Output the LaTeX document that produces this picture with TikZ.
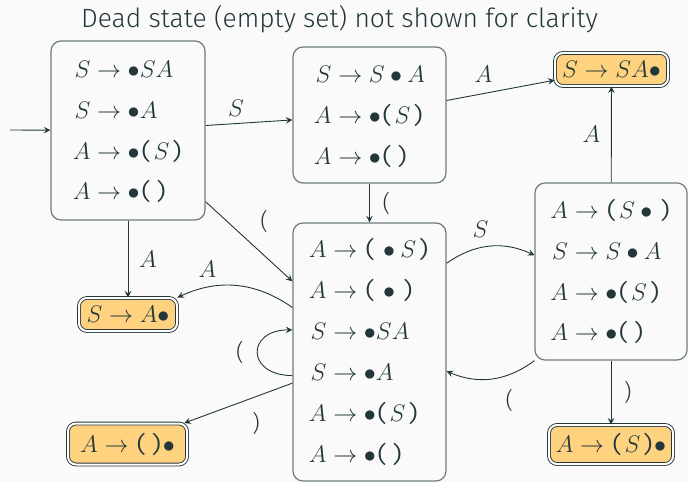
\documentclass[tikz,border=0pt]{standalone}
\usepackage{fontspec}
\setmainfont{Fira Sans Light}
\newfontfamily\parfont{Fira Mono}
\definecolor{mdark}{HTML}{23373B}
\definecolor{boxgray}{HTML}{6E7B7E}
\definecolor{accfill}{HTML}{FFD280}
\definecolor{bggray}{HTML}{FAFAFA}
\newcommand{\lp}{\mbox{\parfont(}}
\newcommand{\rp}{\mbox{\parfont)}}
\newcommand{\prd}[2]{#1 & {}\to #2}
\renewcommand{\arraystretch}{1.46}
\begin{document}
\begin{tikzpicture}[>=stealth, x=0.5pt, y=0.5pt, color=mdark, line width=0.45pt]
        \tikzset{
            itemset/.style={draw=boxgray, line width=0.6pt, rounded corners=5pt, fill=bggray, inner sep=0pt, font=\fontsize{11.5}{14}\selectfont},
            accept/.style={draw=mdark, double=white, double distance=1pt, line width=0.45pt, fill=accfill, rounded corners=4pt, inner sep=2pt, font=\fontsize{11.5}{14}\selectfont},
            lbl/.style={font=\fontsize{11.5}{14}\selectfont}
        }
        \fill[bggray] (0,0) rectangle (688,482);
        \useasboundingbox (0,0) rectangle (688,482);

        \node (title) at (339.5,463) {\fontsize{13.2}{15}\selectfont Dead state (empty set) not shown for clarity};

        \node[itemset, minimum width=77pt, minimum height=89.5pt] (q0) at (128,351.5) {$\begin{array}{r@{}l}
            \prd{S}{\bullet SA}\\ \prd{S}{\bullet A}\\ \prd{A}{\bullet\lp S\rp}\\ \prd{A}{\bullet\lp\rp}
        \end{array}$};
        \node[itemset, minimum width=76.5pt, minimum height=68pt] (q1) at (369.5,367) {$\begin{array}{r@{}l}
            \prd{S}{S\bullet A}\\ \prd{A}{\bullet\lp S\rp}\\ \prd{A}{\bullet\lp\rp}
        \end{array}$};
        \node[itemset, minimum width=76.5pt, minimum height=129pt] (q2) at (369.5,130) {$\begin{array}{r@{}l}
            \prd{A}{\lp\bullet S\rp}\\ \prd{A}{\lp\bullet\rp}\\ \prd{S}{\bullet SA}\\ \prd{S}{\bullet A}\\ \prd{A}{\bullet\lp S\rp}\\ \prd{A}{\bullet\lp\rp}
        \end{array}$};
        \node[itemset, minimum width=76pt, minimum height=88.5pt] (q3) at (611,210.5) {$\begin{array}{r@{}l}
            \prd{A}{\lp S\bullet\rp}\\ \prd{S}{S\bullet A}\\ \prd{A}{\bullet\lp S\rp}\\ \prd{A}{\bullet\lp\rp}
        \end{array}$};

        \node[accept, minimum width=56.5pt, minimum height=16.5pt] (aSA) at (611.5,412.5) {$S\to SA\bullet$};
        \node[accept, minimum width=49pt, minimum height=16.5pt] (aA) at (128,167.5) {$S\to A\bullet$};
        \node[accept, minimum width=59.5pt, minimum height=20.5pt] (aPar) at (127.5,38) {$A\to\lp\rp\bullet$};
        \node[accept, minimum width=62pt, minimum height=19.5pt] (aParS) at (611,37.5) {$A\to\lp S\rp\bullet$};

        \coordinate (init) at (10,352);

        \draw[->] (init) -- (q0);
        \draw[->] (q0) -- node[lbl, above, pos=.35] {$S$} (q1);
        \draw[->] (q1) -- node[lbl, above=2pt, pos=.34] {$A$} (aSA);
        \draw[->] (q3) -- node[lbl, left=2pt] {$A$} (aSA);
        \draw[->] (q1) -- node[lbl, right=3pt] {(} (q2);
        \draw[->] (q0) -- node[lbl, pos=.48, above right, xshift=3pt] {(} (q2);
        \draw[->] (q2.49) to[bend left=30] node[lbl, above=1.5pt, pos=.4] {$S$} (q3.168);
        \draw[->] (q0) -- node[lbl, right=2pt] {$A$} (aA);
        \draw[->] (q2.150) to[bend right=30] node[lbl, above=1.5pt, pos=.75] {$A$} (aA.north east);
        \draw[->] (q2.197) to[out=180, in=180, looseness=2.6] node[lbl, left=3.5pt] {(} (q2.164);
        \draw[->] (q2.202) -- node[lbl, pos=.41, below=3pt, xshift=4pt] {)} (aPar);
        \draw[->] (q3.south west) to[bend left=30] node[lbl, below=4pt, pos=.3] {(} (q2.346);
        \draw[->] (q3) -- node[lbl, right=3pt] {)} (aParS);
\end{tikzpicture}
\end{document}
